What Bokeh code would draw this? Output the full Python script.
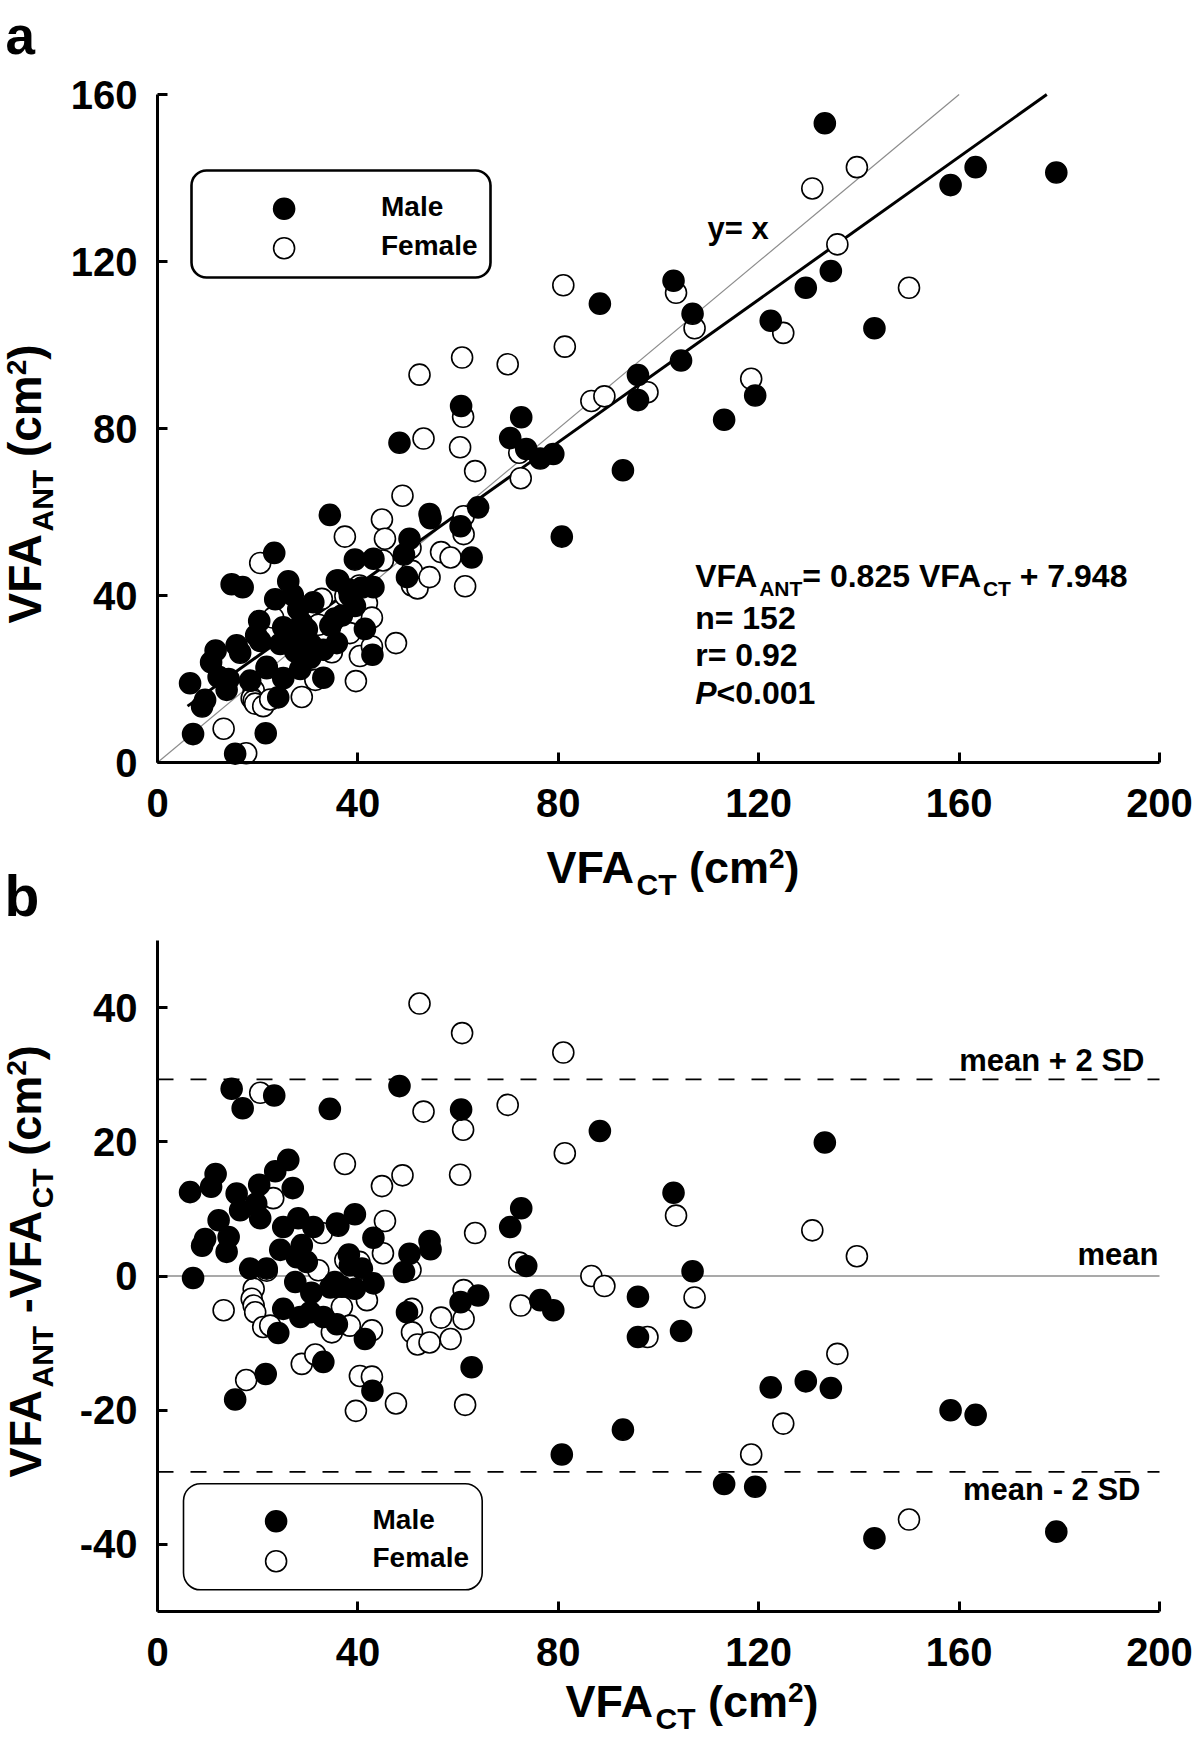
import math
from bokeh.plotting import figure
from bokeh.models import Range1d, Label, BoxAnnotation, FixedTicker, ColumnDataSource, LinearAxis
from bokeh.layouts import column
from bokeh.embed import file_html
from bokeh.resources import INLINE

# ---------------- data ----------------
# VFA_CT (x of both panels)
male_ct = [14.8, 23.3, 17.0, 34.4, 48.3, 60.6, 88.3, 26.1, 23.5, 11.6,
           10.7, 6.5, 20.3, 27.0, 15.8, 19.7, 16.5, 72.6, 103.0, 133.2,
           20.5, 12.2, 9.5, 8.9, 14.2, 13.8, 28.1, 25.1, 31.1, 35.8,
           24.5, 28.8, 39.4, 36.1, 43.1, 70.4, 38.2, 50.3, 54.3, 54.5,
           18.5, 21.8, 27.8, 29.8, 38.4, 40.8, 49.2, 73.6, 106.8, 7.1,
           27.5, 30.7, 25.1, 28.5, 30.5, 33.1, 35.8, 24.1, 35.4, 36.8,
           39.4, 43.1, 41.4, 49.8, 60.5, 64.0, 76.4, 79.0, 95.9, 95.9,
           104.5, 33.1, 21.6, 15.5, 42.9, 62.7, 80.7, 92.9, 122.4, 129.4,
           134.4, 158.3, 163.3, 113.1, 119.3, 143.1, 179.4, 34.5]
# VFA_ANT (y of panel a)
male_ant = [42.7, 50.2, 42.0, 59.3, 76.6, 85.4, 109.9, 43.4, 39.1, 26.8,
            24.0, 19.0, 33.9, 40.1, 28.1, 30.5, 26.3, 82.7, 115.4, 153.1,
            29.1, 20.5, 15.0, 13.4, 20.0, 17.4, 36.7, 32.4, 38.4, 43.6,
            28.4, 33.4, 48.6, 43.6, 48.8, 77.7, 41.4, 53.6, 59.5, 58.5,
            19.6, 22.9, 30.6, 31.9, 40.0, 41.9, 49.8, 75.1, 107.5, 6.8,
            26.6, 28.2, 20.2, 22.4, 25.1, 27.0, 28.6, 15.6, 34.5, 35.2,
            37.5, 42.0, 32.0, 44.4, 56.6, 61.1, 72.8, 73.9, 92.8, 86.8,
            96.3, 20.3, 7.0, 2.1, 25.8, 49.1, 54.1, 70.0, 105.8, 113.7,
            117.7, 138.3, 142.6, 82.1, 87.9, 104.0, 141.3, 32.8]
# VFA_ANT - VFA_CT (y of panel b)
male_diff = [27.9, 26.9, 25.0, 24.9, 28.3, 24.8, 21.6, 17.3, 15.6, 15.2,
             13.3, 12.5, 13.6, 13.1, 12.3, 10.8, 9.8, 10.1, 12.4, 19.9,
             8.6, 8.3, 5.5, 4.5, 5.8, 3.6, 8.6, 7.3, 7.3, 7.8,
             3.9, 4.6, 9.2, 7.5, 5.7, 7.3, 3.2, 3.3, 5.2, 4.0,
             1.1, 1.1, 2.8, 2.1, 1.6, 1.1, 0.6, 1.5, 0.7, -0.3,
             -0.9, -2.5, -4.9, -6.1, -5.4, -6.1, -7.2, -8.5, -0.9, -1.6,
             -1.9, -1.1, -9.4, -5.4, -3.9, -2.9, -3.6, -5.1, -3.1, -9.1,
             -8.2, -12.8, -14.6, -18.4, -17.1, -13.6, -26.6, -22.9, -16.6, -15.7,
             -16.7, -20.0, -20.7, -31.0, -31.4, -39.1, -38.1, -1.7]

female_ct = [52.3, 60.8, 81.0, 20.5, 53.1, 61.0, 69.9, 81.3, 37.4, 48.9,
             44.8, 60.4, 23.1, 45.4, 63.4, 32.8, 103.5, 130.7, 139.6, 40.3,
             45.0, 37.5, 72.2, 21.8, 32.1, 86.6, 89.2, 19.2, 18.8, 19.2,
             19.5, 13.2, 35.1, 34.8, 21.1, 22.5, 41.8, 36.8, 38.4, 42.8,
             50.8, 50.8, 51.9, 54.3, 56.6, 58.5, 61.1, 61.1, 72.5, 107.2,
             97.8, 135.7, 28.8, 31.5, 17.7, 40.4, 42.8, 39.6, 47.6, 61.4,
             124.9, 118.5, 150.0, 50.5]
female_ant = [92.9, 97.0, 114.3, 47.8, 77.6, 82.8, 95.4, 99.6, 54.1, 63.9,
              58.2, 75.5, 34.7, 53.6, 69.8, 39.2, 112.5, 137.5, 142.6, 42.4,
              48.4, 39.9, 74.2, 22.6, 33.0, 86.6, 87.7, 17.3, 15.4, 14.8,
              14.1, 8.1, 33.5, 26.4, 13.5, 15.1, 38.2, 32.2, 31.0, 34.7,
              45.9, 42.4, 41.7, 44.4, 50.4, 49.1, 59.0, 54.7, 68.1, 104.0,
              88.7, 124.1, 15.7, 19.8, 2.2, 25.5, 27.8, 19.5, 28.6, 42.2,
              102.9, 91.9, 113.7, 51.4]
female_diff = [40.6, 36.2, 33.3, 27.3, 24.5, 21.8, 25.5, 18.3, 16.7, 15.0,
               13.4, 15.1, 11.6, 8.2, 6.4, 6.4, 9.0, 6.8, 2.95, 2.1,
               3.4, 2.4, 2.0, 0.8, 0.85, 0.0, -1.5, -1.9, -3.4, -4.4,
               -5.4, -5.1, -1.6, -8.4, -7.6, -7.4, -3.6, -4.6, -7.4, -8.1,
               -4.9, -8.4, -10.2, -9.9, -6.2, -9.4, -2.1, -6.4, -4.4, -3.2,
               -9.1, -11.6, -13.1, -11.7, -15.5, -14.9, -15.0, -20.1, -19.0, -19.2,
               -22.0, -26.6, -36.3, 0.9]

x_ticks = [0, 40, 80, 120, 160, 200]
ya_ticks = [0, 40, 80, 120, 160]
yb_ticks = [-40, -20, 0, 20, 40]
yb_tick_text = {-40: "-40", -20: "-20", 0: "0", 20: "20", 40: "40"}

# regression line as drawn in the picture (end points), and its printed equation
fit_line_x = [6.0, 177.5]
fit_line_y = [13.5, 160.0]
fit_text = "= 0.825 VFA"
fit_text_tail = " + 7.948"
identity_span = [0, 160]
mean_diff = 0.0
upper_loa = 29.3
lower_loa = -29.2

# ---------------- geometry (page pixels) ----------------
FONT = "Liberation Sans"
W = 1200
HA, HB = 930, 807
X0P, X1P = 157.0, 1159.0          # x = 0 / 200
A_Y0P, A_Y1P = 762.0, 94.0        # panel a: y = 0 / 160
B_YLOP, B_YHIP = 1611.0, 940.0    # panel b: y = -50 / 50
CORR = 0.40                        # baseline correction (fraction of font size)

def xc(px):
    return (px - X0P) * 200.0 / (X1P - X0P)

def yca(py):
    return (A_Y0P - py) * 160.0 / (A_Y0P - A_Y1P)

def ycb(py):
    return -50.0 + (B_YLOP - py) * 100.0 / (B_YLOP - B_YHIP)

WB = {' ': 278, '(': 333, ')': 333, '+': 584, '-': 333, '.': 278, '<': 584, '=': 584,
      'A': 722, 'C': 722, 'D': 722, 'F': 611, 'M': 833, 'N': 722, 'P': 667, 'S': 667,
      'T': 611, 'V': 667, 'a': 556, 'c': 556, 'e': 556, 'l': 278, 'm': 889, 'n': 611,
      'r': 389, 'x': 556, 'y': 556}

def tw(s, size):
    return sum(WB.get(ch, 556) for ch in s) * size / 1000.0

def lab(p, x, y, text, size, style="bold", align="left", angle=0.0):
    p.add_layout(Label(x=x, y=y, text=text, text_font=FONT, text_font_size=f"{size}px",
                       text_font_style=style, text_color="black", text_align=align,
                       text_baseline="alphabetic", angle=angle, angle_units="rad"))

def text_h(p, px, py, text, size, yconv, style="bold", align="left"):
    lab(p, xc(px), yconv(py - CORR * size), text, size, style, align)

def rich_h(p, pieces, px0, py0, yconv):
    px = px0
    for t, s, r, st in pieces:
        core = t.lstrip(" ")
        px += tw(t[:len(t) - len(core)], s)
        lab(p, xc(px), yconv(py0 - r - CORR * s), core, s, st)
        px += tw(core, s)

def rich_v(p, pieces, px0, py0, yconv):
    py = py0
    for t, s, r, st in pieces:
        core = t.lstrip(" ")
        py -= tw(t[:len(t) - len(core)], s)
        lab(p, xc(px0 - r - CORR * s), yconv(py), core, s, st, angle=math.pi / 2)
        py -= tw(core, s)

def make_axes(p, ybounds, yt, xloc, overrides=None):
    xa = LinearAxis(fixed_location=xloc, bounds=(0, 200), ticker=FixedTicker(ticks=x_ticks))
    ya = LinearAxis(fixed_location=0, bounds=ybounds, ticker=FixedTicker(ticks=yt))
    if overrides:
        ya.major_label_overrides = overrides
    for ax in (xa, ya):
        ax.axis_line_width = 3
        ax.axis_line_color = "black"
        ax.major_tick_line_width = 3
        ax.major_tick_line_color = "black"
        ax.major_tick_in = 10
        ax.major_tick_out = 0
        ax.minor_tick_line_color = None
        ax.major_label_text_font = FONT
        ax.major_label_text_font_style = "bold"
        ax.major_label_text_font_size = "40px"
        ax.major_label_text_color = "black"
    xa.major_label_standoff = 26
    ya.major_label_standoff = 20
    p.add_layout(xa, "below")
    p.add_layout(ya, "left")

def base_fig(height, yr):
    p = figure(width=W, height=height, x_range=Range1d(xc(0), xc(W)), y_range=yr,
               output_backend="svg", toolbar_location=None,
               x_axis_location=None, y_axis_location=None, min_border=0)
    p.grid.visible = False
    p.outline_line_color = None
    p.background_fill_color = "white"
    p.border_fill_color = "white"
    return p

SUB, SUP = 30, 28
MS = 21

# ---------------- panel a ----------------
pa = base_fig(HA, Range1d(yca(HA), yca(0)))
make_axes(pa, (0, 160), ya_ticks, 0)

pa.line(identity_span, identity_span, line_color="#8c8c8c", line_width=1.2)
pa.line(fit_line_x, fit_line_y, line_color="black", line_width=3)

pa.scatter("x", "y", source=ColumnDataSource(dict(x=female_ct, y=female_ant)), size=MS,
           marker="circle", fill_color="white", line_color="black", line_width=1.6)
pa.scatter("x", "y", source=ColumnDataSource(dict(x=male_ct, y=male_ant)), size=MS,
           marker="circle", fill_color="black", line_color="black", line_width=1.6)

# legend a
pa.add_layout(BoxAnnotation(left=xc(191), right=xc(490), top=yca(170), bottom=yca(277),
                            fill_alpha=0, line_color="black", line_alpha=1.0, line_width=2.6,
                            border_radius=15))
pa.scatter([xc(283.6)], [yca(208.3)], size=MS, marker="circle", fill_color="black", line_color="black", line_width=1.6)
pa.scatter([xc(283.6)], [yca(247.7)], size=MS, marker="circle", fill_color="white", line_color="black", line_width=1.6)
text_h(pa, 380.5, 216.7, "Male", 28, yca)
text_h(pa, 380.5, 256.0, "Female", 28, yca)

text_h(pa, 707, 240, "y= x", 31, yca)

rich_h(pa, [("VFA", 32, 0, "bold"), ("ANT", 21, -8, "bold"), (fit_text, 32, 0, "bold"),
            ("CT", 21, -8, "bold"), (fit_text_tail, 32, 0, "bold")], 694.7, 588.3, yca)
text_h(pa, 694.7, 630, "n= 152", 32, yca)
text_h(pa, 694.7, 667, "r= 0.92", 32, yca)
rich_h(pa, [("P", 32, 0, "bold italic"), ("<0.001", 32, 0, "bold")], 694.7, 705, yca)

rich_h(pa, [("VFA", 45, 0, "bold"), ("CT", SUB, -11, "bold"), (" (cm", 45, 0, "bold"),
            ("2", SUP, 16, "bold"), (")", 45, 0, "bold")], 546, 885, yca)
rich_v(pa, [("VFA", 46, 0, "bold"), ("ANT", SUB, -11, "bold"), (" (cm", 46, 0, "bold"),
            ("2", SUP, 16, "bold"), (")", 46, 0, "bold")], 43, 623, yca)

text_h(pa, 5, 56, "a", 53, yca)
text_h(pa, 4, 918, "b", 57, yca)

# ---------------- panel b ----------------
pb = base_fig(HB, Range1d(ycb(HA + HB), ycb(HA)))
make_axes(pb, (-50, 50), yb_ticks, -50, yb_tick_text)

pb.line([0, 200], [mean_diff, mean_diff], line_color="#8c8c8c", line_width=1.5)
pb.line([0, 200], [upper_loa, upper_loa], line_color="black", line_width=1.7, line_dash="16 17")
pb.line([0, 200], [lower_loa, lower_loa], line_color="black", line_width=1.7, line_dash="16 17")

pb.scatter("x", "y", source=ColumnDataSource(dict(x=female_ct, y=female_diff)), size=MS,
           marker="circle", fill_color="white", line_color="black", line_width=1.6)
pb.scatter("x", "y", source=ColumnDataSource(dict(x=male_ct, y=male_diff)), size=MS,
           marker="circle", fill_color="black", line_color="black", line_width=1.6)

text_h(pb, 1144, 1072.7, "mean + 2 SD", 31, ycb, align="right")
text_h(pb, 1158, 1266.7, "mean", 31, ycb, align="right")
text_h(pb, 1140, 1501.7, "mean - 2 SD", 31, ycb, align="right")

pb.add_layout(BoxAnnotation(left=xc(183), right=xc(481.7), top=ycb(1483.3), bottom=ycb(1589.3),
                            fill_alpha=0, line_color="black", line_alpha=1.0, line_width=1.6,
                            border_radius=17))
pb.scatter([xc(275.6)], [ycb(1520.7)], size=MS, marker="circle", fill_color="black", line_color="black", line_width=1.6)
pb.scatter([xc(275.6)], [ycb(1560.7)], size=MS, marker="circle", fill_color="white", line_color="black", line_width=1.6)
text_h(pb, 372, 1530, "Male", 28, ycb)
text_h(pb, 372, 1568.3, "Female", 28, ycb)

rich_h(pb, [("VFA", 45, 0, "bold"), ("CT", SUB, -11, "bold"), (" (cm", 45, 0, "bold"),
            ("2", SUP, 16, "bold"), (")", 45, 0, "bold")], 565, 1719, ycb)
rich_v(pb, [("VFA", 45, 0, "bold"), ("ANT", SUB, -11, "bold"), (" -VFA", 45, 0, "bold"),
            ("CT", SUB, -11, "bold"), (" (cm", 45, 0, "bold"),
            ("2", SUP, 16, "bold"), (")", 45, 0, "bold")], 43, 1477, ycb)

layout = column(pa, pb, spacing=0)
open("out.html", "w").write(file_html(layout, INLINE))
